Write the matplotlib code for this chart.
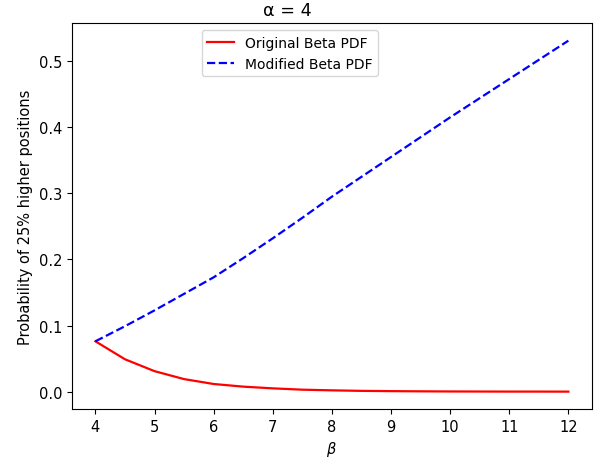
import matplotlib
matplotlib.use("Agg")
import matplotlib.pyplot as plt

# ── data ───────────────────────────────────────────────────────────────────
beta = [4.0, 4.5, 5.0, 5.5, 6.0, 6.5, 7.0, 7.5, 8.0,
        8.5, 9.0, 9.5, 10.0, 10.5, 11.0, 11.5, 12.0]

original_pdf = [0.0762, 0.049, 0.031, 0.019, 0.0116, 0.0076, 0.005, 0.003, 0.002,
                0.0012, 0.0008, 0.0005, 0.0003, 0.0002, 0.0001, 0.0001, 0.00005]

modified_pdf = [0.0762, 0.099, 0.123, 0.148, 0.173, 0.202, 0.232, 0.263, 0.295,
                0.325, 0.355, 0.385, 0.415, 0.444, 0.473, 0.502, 0.531]

plt.rcParams["font.size"] = 10.5

fig, ax = plt.subplots(figsize=(5.98, 4.64), dpi=100)
fig.subplots_adjust(left=0.120, right=0.990, top=0.948, bottom=0.116)

ax.plot(beta, original_pdf, "r-", linewidth=1.6, label="Original Beta PDF")
ax.plot(beta, modified_pdf, "b--", linewidth=1.6, label="Modified Beta PDF")

ax.set_xlabel(r"$\beta$")
ax.set_ylabel("Probability of 25% higher positions")
ax.set_title("α = 4", x=0.415)
ax.legend(loc="upper center", bbox_to_anchor=(0.419, 1.0), fontsize=10,
          handlelength=1.9)

fig.savefig("out.png", dpi=100)
